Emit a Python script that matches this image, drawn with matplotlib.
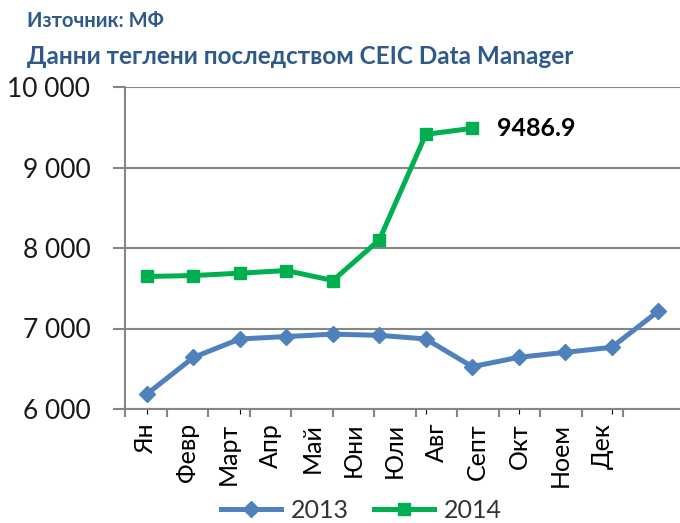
import numpy as np
import matplotlib
matplotlib.use("Agg")
import matplotlib.pyplot as plt
from matplotlib.ticker import FuncFormatter, FixedLocator

plt.rcParams['font.family'] = ['Lato', 'Open Sans', 'DejaVu Sans']

# данни
months = ["Ян", "Февр", "Март", "Апр", "Май", "Юни", "Юли", "Авг", "Септ", "Окт", "Ноем", "Дек"]
v2013 = [6187, 6642, 6870, 6900, 6930, 6915, 6870, 6526, 6642, 6704, 6766, 7214]
v2014 = [7646, 7658, 7687, 7720, 7596, 8102, 9412, 9486.9]
last_label = "9486.9"

c2013 = "#4F81BD"
c2014 = "#00B050"
grid_c = "#868686"

fig = plt.figure(figsize=(6.8, 5.23), dpi=100)
ax = fig.add_axes([125 / 680, 1 - 409 / 523, 1 - 125 / 680, (409 - 87) / 523])

x13 = np.arange(len(v2013))
x14 = np.arange(len(v2014))
ax.plot(x13, v2013, color=c2013, lw=3.6, marker='D', ms=8, label="2013", zorder=3)
ax.plot(x14, v2014, color=c2014, lw=3.6, marker='s', ms=8, label="2014", zorder=3)

ax.annotate(last_label, (x14[-1], v2014[-1]), xytext=(18, 0), textcoords='offset points',
            va='center', ha='left', fontsize=18, fontweight='bold', color='black')

ax.set_xlim(-0.474, 11.47)
ax.set_ylim(6000, 10000)
ax.set_yticks([6000, 7000, 8000, 9000, 10000])
ax.yaxis.set_major_formatter(FuncFormatter(lambda v, p: f"{v:,.0f}".replace(",", " ")))
ax.tick_params(axis='y', length=9, width=1.5, color=grid_c, pad=16, labelsize=19,
               labelcolor='#1a1a1a')
ax.grid(axis='y', color=grid_c, lw=1.5)
ax.set_axisbelow(True)
ax.tick_params(axis='x', bottom=False, labelbottom=False)
for s in ['top', 'right']:
    ax.spines[s].set_visible(False)
ax.spines['left'].set_color(grid_c)
ax.spines['left'].set_linewidth(1.5)
ax.spines['bottom'].set_color(grid_c)
ax.spines['bottom'].set_linewidth(1.5)

# ос с месеците (отделна скала, както в оригинала)
ax2 = ax.twiny()
ax2.set_xlim(0, 555 / 41.5)
ax2.xaxis.set_ticks_position('bottom')
ax2.xaxis.set_label_position('bottom')
ax2.xaxis.set_major_locator(FixedLocator(np.arange(len(months) + 1)))
ax2.xaxis.set_minor_locator(FixedLocator(np.arange(len(months)) + 0.5))
ax2.set_xticklabels([], minor=False)
ax2.set_xticklabels(months, minor=True, rotation=90, fontsize=18, color='black')
ax2.tick_params(axis='x', which='major', length=6, width=1.5, color=grid_c)
ax2.tick_params(axis='x', which='minor', length=0, pad=10)
for s in ax2.spines.values():
    s.set_visible(False)

fig.text(27 / 680, 1 - 21 / 523, "Източник: МФ", fontsize=14.5, fontweight='bold',
         color='#2E5A8A', va='center', ha='left')
fig.text(27 / 680, 1 - 56 / 523, "Данни теглени последством CEIC Data Manager", fontsize=17.5,
         fontweight='bold', color='#2E5A8A', va='center', ha='left')

h, l = ax.get_legend_handles_labels()
fig.legend(h, l, loc='center', bbox_to_anchor=(361 / 680, 1 - 510 / 523), ncol=2,
           frameon=False, fontsize=18, handlelength=2.4, handletextpad=0.4,
           columnspacing=1.0, labelcolor='#333333')

fig.savefig("out.png", dpi=100)
